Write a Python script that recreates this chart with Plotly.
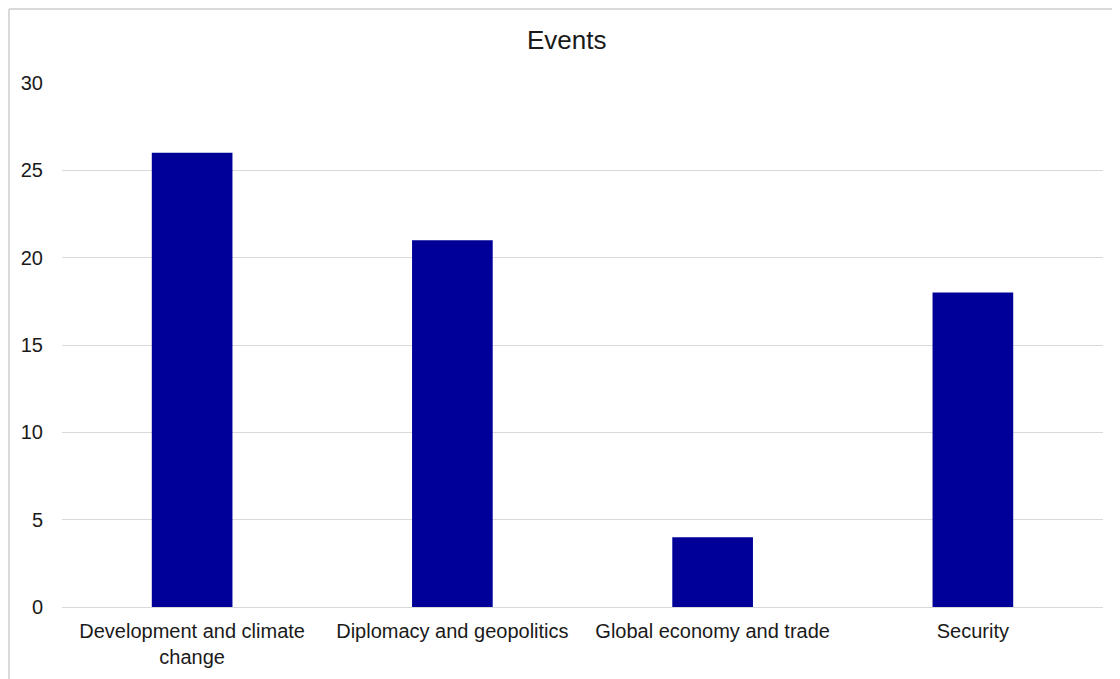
import plotly.graph_objects as go

categories = ["Development and climate<br>change", "Diplomacy and geopolitics",
              "Global economy and trade", "Security"]
values = [26, 21, 4, 18]
y_ticks = [0, 5, 10, 15, 20, 25, 30]

OFF = 8  # page body margin
W, H = 1120, 679
# target plot area in page pixels
PX0, PX1, PY0, PY1 = 62, 1103, 83, 607
L = PX0 - OFF
R = W - (PX1 - OFF)
T = PY0 - OFF
B = H - (PY1 - OFF)
pw, ph = W - L - R, H - T - B

def px_x(x):
    return (x - OFF - L) / pw

def px_y(y):
    return (H - B - (y - OFF)) / ph

fig = go.Figure(go.Bar(x=categories, y=values, marker_color="#000099",
                       marker_line_width=0, width=0.31))

fig.update_layout(
    width=W, height=H,
    margin=dict(l=L, r=R, t=T, b=B),
    paper_bgcolor="white", plot_bgcolor="white",
    font=dict(family="Liberation Sans, Arial, sans-serif", size=20, color="#1a1a1a"),
    showlegend=False,
    annotations=[dict(text="Events", x=px_x(567), y=px_y(40), xref="paper", yref="paper",
                      showarrow=False, font=dict(size=26, color="#1a1a1a"),
                      xanchor="center", yanchor="middle")],
    shapes=[
        dict(type="line", xref="paper", yref="paper", x0=px_x(OFF + 1), x1=px_x(1140),
             y0=px_y(OFF + 1), y1=px_y(OFF + 1), line=dict(color="#d9d9d9", width=2)),
        dict(type="line", xref="paper", yref="paper", x0=px_x(OFF + 1), x1=px_x(OFF + 1),
             y0=px_y(OFF + 1), y1=px_y(720), line=dict(color="#d9d9d9", width=2)),
    ],
)
fig.update_yaxes(range=[0, 30], tickvals=y_ticks, showgrid=True, gridcolor="#d9d9d9",
                 gridwidth=1, zeroline=False, showline=False, ticks="",
                 ticklabelstandoff=18, tickfont=dict(size=20))
fig.update_xaxes(showline=True, linecolor="#d9d9d9", linewidth=1, ticks="",
                 tickfont=dict(size=20), ticklabelstandoff=6)

fig.write_html("out.html")
